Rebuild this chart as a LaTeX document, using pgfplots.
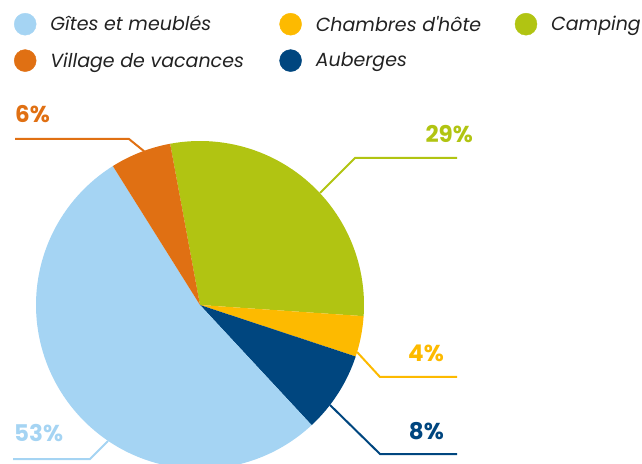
\documentclass[border=0pt]{standalone}
\usepackage{pgfplots}
\pgfplotsset{compat=1.18}
\usepackage{fontspec}
\setmainfont{Poppins}
\definecolor{gites}{HTML}{A5D4F3}
\definecolor{chambres}{HTML}{FDBA00}
\definecolor{camping}{HTML}{B1C412}
\definecolor{village}{HTML}{E07013}
\definecolor{auberges}{HTML}{00467F}
\definecolor{legtext}{HTML}{222222}
\begin{document}
\begin{tikzpicture}
% shares in percent, clockwise from the top
\def\vCamping{29}\def\vChambres{4}\def\vAuberges{8}\def\vGites{53}\def\vVillage{6}
\pgfmathsetmacro\aA{100.5}
\pgfmathsetmacro\aB{\aA-\vCamping*3.6}
\pgfmathsetmacro\aC{\aB-\vChambres*3.6}
\pgfmathsetmacro\aD{\aC-\vAuberges*3.6}
\pgfmathsetmacro\aE{\aD-\vGites*3.6}
\pgfmathsetmacro\aF{\aE-\vVillage*3.6}
\begin{axis}[
  x=1pt, y=1pt, xmin=0, xmax=642, ymin=0, ymax=463,
  hide axis, clip=true,
  legend columns=3,
  legend image code/.code={\fill[#1] (11pt,0) circle (11pt);},
  legend style={draw=none, fill=none, at={(axis cs:14,450)}, anchor=north west,
    inner sep=0pt, outer sep=0pt, row sep=14pt,
    nodes={inner sep=0pt, anchor=west, text=legtext},
    cells={anchor=west},
    /tikz/every odd column/.append style={column sep=14pt},
    font=\itshape\fontsize{19}{22}\selectfont},
]
\path (axis cs:0,0) rectangle (axis cs:642,463);
\addlegendimage{gites}
\addlegendentry{\makebox[229pt][l]{Gîtes et meublés}}
\addlegendimage{chambres}
\addlegendentry{\makebox[199pt][l]{Chambres d\textquotesingle hôte}}
\addlegendimage{camping}
\addlegendentry{Camping}
\addlegendimage{village}
\addlegendentry{\makebox[229pt][l]{Village de vacances}}
\addlegendimage{auberges}
\addlegendentry{\makebox[199pt][l]{Auberges}}

\fill[camping] (axis cs:200,158) -- ++(\aA:164pt) arc[start angle=\aA, end angle=\aB, radius=164pt] -- cycle;
\fill[chambres] (axis cs:200,158) -- ++(\aB:164pt) arc[start angle=\aB, end angle=\aC, radius=164pt] -- cycle;
\fill[auberges] (axis cs:200,158) -- ++(\aC:164pt) arc[start angle=\aC, end angle=\aD, radius=164pt] -- cycle;
\fill[gites] (axis cs:200,158) -- ++(\aD:164pt) arc[start angle=\aD, end angle=\aE, radius=164pt] -- cycle;
\fill[village] (axis cs:200,158) -- ++(\aE:164pt) arc[start angle=\aE, end angle=\aF, radius=164pt] -- cycle;

\draw[village, line width=2pt] (axis cs:145,311) -- (axis cs:129,324) -- (axis cs:15,324);
\draw[camping, line width=2pt] (axis cs:320,270) -- (axis cs:355,305) -- (axis cs:457,305);
\draw[chambres, line width=2pt] (axis cs:357,111) -- (axis cs:380,86) -- (axis cs:457,86);
\draw[auberges, line width=2pt] (axis cs:330,58) -- (axis cs:380,9) -- (axis cs:457,9);
\draw[gites, line width=2pt] (axis cs:108,22) -- (axis cs:90,4) -- (axis cs:13,4);

\begin{scope}[every node/.style={inner sep=0pt, font=\bfseries\fontsize{23}{26}\selectfont}]
\node[village, anchor=base west] at (axis cs:15,340) {6\%};
\node[camping, anchor=base east] at (axis cs:473,320) {29\%};
\node[chambres, anchor=base east] at (axis cs:444,101) {4\%};
\node[auberges, anchor=base east] at (axis cs:444,24) {8\%};
\node[gites, anchor=base west] at (axis cs:14,22) {53\%};
\end{scope}
\end{axis}
\end{tikzpicture}
\end{document}
